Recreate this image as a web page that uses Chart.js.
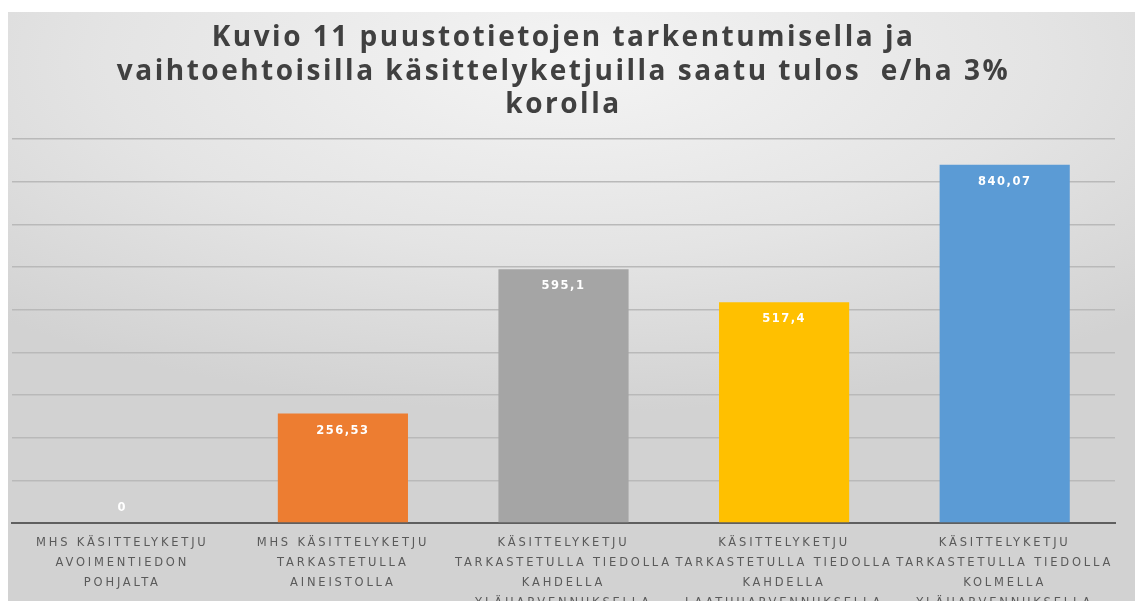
<!DOCTYPE html>
<html>
<head>
<meta charset="utf-8">
<script src="https://cdn.jsdelivr.net/npm/chart.js@4/dist/chart.umd.min.js"></script>
<style>
  html, body { margin: 0; padding: 0; background: #fff; }
  #wrap {
    position: absolute; left: 8px; top: 12px; width: 1127px; height: 589px;
    background: radial-gradient(ellipse 75% 60% at 50% 8%, #f4f4f4 0%, #e4e4e4 55%, #d2d2d2 100%);
  }
</style>
</head>
<body>
<div id="wrap"><canvas id="chart"></canvas></div>
<script>
// ---- data ----
const categories = [
  ['MHS KÄSITTELYKETJU', 'AVOIMENTIEDON', 'POHJALTA'],
  ['MHS KÄSITTELYKETJU', 'TARKASTETULLA', 'AINEISTOLLA'],
  ['KÄSITTELYKETJU', 'TARKASTETULLA TIEDOLLA', 'KAHDELLA', 'YLÄHARVENNUKSELLA'],
  ['KÄSITTELYKETJU', 'TARKASTETULLA TIEDOLLA', 'KAHDELLA', 'LAATUHARVENNUKSELLA'],
  ['KÄSITTELYKETJU', 'TARKASTETULLA TIEDOLLA', 'KOLMELLA', 'YLÄHARVENNUKSELLA']
];
const values = [0, 256.53, 595.1, 517.4, 840.07];
const labels = ['0', '256,53', '595,1', '517,4', '840,07'];
const barColors = ['#5b9bd5', '#ed7d31', '#a5a5a5', '#ffc000', '#5b9bd5'];
const titleLines = [
  'Kuvio 11 puustotietojen tarkentumisella ja',
  'vaihtoehtoisilla käsittelyketjuilla saatu tulos  e/ha 3%',
  'korolla'
];

// arvot palkin yläpäähän (valkoinen teksti)
const valueLabels = {
  id: 'valueLabels',
  beforeDraw(chart) { chart.ctx.letterSpacing = '2.5px'; }, // otsikko
  afterDatasetsDraw(chart) {
    const ctx = chart.ctx;
    const meta = chart.getDatasetMeta(0);
    ctx.save();
    ctx.letterSpacing = '1.5px';
    ctx.font = 'bold 11.5px "DejaVu Sans"';
    ctx.fillStyle = '#ffffff';
    ctx.textAlign = 'center';
    ctx.textBaseline = 'middle';
    meta.data.forEach((bar, i) => {
      const y = Math.min(bar.y + 17, bar.base - 15);
      ctx.fillText(labels[i], bar.x, y);
    });
    ctx.restore();
    // x-akselin tekstit piirretään tämän jälkeen (ticks.z = 1), harvennettuna
    ctx.letterSpacing = '2.8px';
  },
  afterDraw(chart) { chart.ctx.letterSpacing = '0px'; }
};

new Chart(document.getElementById('chart'), {
  type: 'bar',
  data: {
    labels: categories,
    datasets: [{
      data: values,
      backgroundColor: barColors,
      barPercentage: 0.59,
      categoryPercentage: 1
    }]
  },
  options: {
    responsive: true,
    maintainAspectRatio: false,
    animation: false,
    layout: { padding: { left: 4, right: 20, top: 8, bottom: -14 } },
    plugins: {
      legend: { display: false },
      tooltip: { enabled: false },
      title: {
        display: true,
        text: titleLines,
        color: '#404040',
        font: { family: '"Open Sans"', size: 28, weight: 'bold', lineHeight: 1.18 },
        padding: { top: 2, bottom: 18 }
      }
    },
    scales: {
      x: {
        grid: { display: false },
        border: { display: true, color: '#5f5f5f', width: 2 },
        ticks: {
          z: 1,
          maxRotation: 0,
          autoSkip: false,
          padding: 2,
          color: '#5a5a5a',
          font: { family: '"DejaVu Sans"', size: 11.5, lineHeight: 1.74 }
        }
      },
      y: {
        min: 0, max: 900,
        ticks: { display: false, stepSize: 100 },
        border: { display: false },
        grid: {
          color: c => c.tick.value === 0 ? 'rgba(0,0,0,0)' : '#b9b9b9',
          lineWidth: 1.5,
          drawTicks: false
        }
      }
    }
  },
  plugins: [valueLabels]
});
</script>
</body>
</html>
